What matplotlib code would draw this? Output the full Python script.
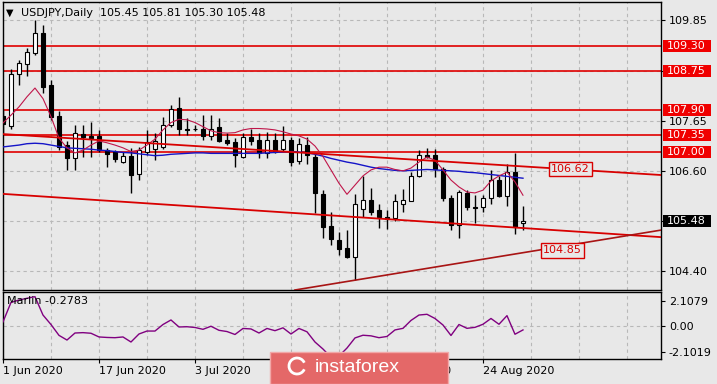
import numpy as np
import pandas as pd
import matplotlib
matplotlib.use("Agg")
import matplotlib.pyplot as plt
import matplotlib.transforms as mtransforms
from matplotlib.patches import Rectangle, Arc

# daily bars, 1 Jun - 31 Aug 2020
dates = pd.bdate_range("2020-06-01", "2020-08-31")

opens = [107.77, 107.55, 108.68, 108.90, 109.14, 109.58, 108.45, 107.77, 107.14, 106.85,
         107.38, 107.34, 107.34, 107.03, 106.98, 106.78, 106.90, 106.51, 107.00, 107.05,
         107.10, 107.58, 107.94, 107.50, 107.49, 107.48, 107.34, 107.53, 107.26, 107.21,
         106.89, 107.31, 107.25, 106.96, 107.25, 107.05, 107.25, 106.79, 107.14, 106.89,
         106.07, 105.38, 105.07, 104.91, 104.70, 105.76, 105.94, 105.73, 105.58, 105.55,
         105.87, 105.93, 106.47, 106.92, 106.92, 106.61, 105.98, 105.41, 106.10, 105.80,
         105.79, 106.00, 106.39, 106.03, 106.56, 105.45]
highs = [107.90, 108.79, 109.00, 109.25, 109.85, 109.75, 108.56, 107.88, 107.23, 107.58,
         107.58, 107.65, 107.47, 107.07, 107.03, 107.00, 107.07, 107.10, 107.47, 107.40,
         107.74, 108.01, 108.19, 107.72, 107.58, 107.79, 107.79, 107.72, 107.40, 107.29,
         107.40, 107.48, 107.40, 107.43, 107.41, 107.55, 107.32, 107.30, 107.32, 106.96,
         106.16, 105.69, 105.25, 105.29, 106.07, 106.47, 106.20, 105.87, 105.73, 106.07,
         106.18, 106.56, 107.03, 107.07, 107.05, 106.67, 106.05, 106.16, 106.16, 106.05,
         106.05, 106.60, 106.47, 106.72, 106.97, 105.81]
lows = [107.40, 107.49, 108.45, 108.64, 109.10, 108.27, 107.68, 107.03, 106.60, 106.60,
        106.89, 106.89, 107.00, 106.67, 106.78, 106.74, 106.10, 106.39, 106.92, 106.82,
        107.05, 107.54, 107.36, 107.36, 107.45, 107.26, 107.25, 107.21, 107.14, 106.66,
        106.85, 107.14, 106.85, 106.85, 106.96, 107.01, 106.68, 106.72, 106.73, 105.67,
        105.13, 104.96, 104.76, 104.68, 104.20, 105.58, 105.62, 105.33, 105.31, 105.49,
        105.69, 105.92, 106.45, 106.85, 106.45, 105.93, 105.29, 105.11, 105.73, 105.44,
        105.69, 105.87, 106.02, 105.81, 105.20, 105.30]
closes = [107.60, 108.69, 108.92, 109.16, 109.58, 108.41, 107.74, 107.10, 106.85, 107.40,
          107.32, 107.30, 107.03, 106.95, 106.84, 106.91, 106.50, 107.03, 107.20, 107.22,
          107.58, 107.92, 107.48, 107.47, 107.48, 107.34, 107.50, 107.23, 107.19, 106.92,
          107.31, 107.23, 106.96, 107.25, 107.00, 107.25, 106.78, 107.16, 106.92, 106.10,
          105.35, 105.09, 104.89, 104.71, 105.85, 105.94, 105.69, 105.58, 105.54, 105.92,
          105.94, 106.47, 106.92, 106.88, 106.61, 105.98, 105.40, 106.11, 105.79, 105.78,
          105.98, 106.39, 106.03, 106.56, 105.36, 105.48]

ma_fast = [107.62, 107.79, 107.97, 108.19, 108.38, 108.15, 107.76, 107.29, 107.08, 106.97,
           107.03, 107.14, 107.23, 107.19, 107.14, 107.08, 107.00, 107.03, 107.14, 107.27,
           107.47, 107.63, 107.70, 107.69, 107.63, 107.54, 107.45, 107.41, 107.40, 107.41,
           107.47, 107.50, 107.50, 107.49, 107.47, 107.43, 107.38, 107.34, 107.27, 107.12,
           106.89, 106.60, 106.31, 106.07, 106.27, 106.47, 106.60, 106.66, 106.66, 106.61,
           106.58, 106.64, 106.77, 106.88, 106.81, 106.60, 106.38, 106.23, 106.12, 106.10,
           106.16, 106.36, 106.47, 106.55, 106.34, 106.05]
ma_slow = [107.10, 107.12, 107.14, 107.17, 107.18, 107.17, 107.14, 107.11, 107.08, 107.07,
           107.06, 107.05, 107.03, 107.02, 107.00, 106.98, 106.97, 106.95, 106.93, 106.91,
           106.92, 106.94, 106.95, 106.96, 106.97, 106.97, 106.96, 106.96, 106.96, 106.96,
           106.96, 106.96, 106.96, 106.97, 106.98, 106.99, 107.00, 106.99, 106.97, 106.94,
           106.90, 106.85, 106.81, 106.77, 106.74, 106.70, 106.66, 106.63, 106.61, 106.59,
           106.58, 106.59, 106.60, 106.61, 106.60, 106.59, 106.58, 106.57, 106.55, 106.54,
           106.52, 106.50, 106.48, 106.46, 106.44, 106.42]

marlin = [0.37, 1.95, 2.15, 2.29, 2.42, 0.93, 0.16, -0.72, -1.10, -0.53,
          -0.50, -0.55, -0.85, -0.89, -0.91, -0.85, -1.26, -0.61, -0.37, -0.37,
          0.16, 0.53, -0.04, -0.02, -0.08, -0.23, 0.02, -0.31, -0.41, -0.65,
          -0.16, -0.20, -0.53, -0.16, -0.34, -0.11, -0.61, -0.16, -0.43, -1.26,
          -1.83, -2.50, -2.40, -1.75, -0.93, -0.71, -0.76, -0.91, -0.81, -0.28,
          -0.15, 0.49, 0.93, 0.99, 0.65, 0.12, -0.73, 0.16, -0.15, -0.07,
          0.18, 0.65, 0.18, 0.88, -0.63, -0.28]

levels = [109.30, 108.75, 107.90, 107.35, 107.00]
last_price = 105.48
trend_upper = ([-0.06, 82.19], [107.38, 106.49])
trend_lower = ([-0.06, 82.19], [106.08, 105.14])
trend_rise = ([36.5, 82.19], [103.99, 105.29])
trend_tags = [(70.9, 106.62), (69.9, 104.85)]

price_grid = [109.85, 108.76, 107.67, 106.58, 105.49, 104.40]
# 108.75 and 105.50 sit under the price tags
price_grid_labels = ["109.85", "", "107.65", "106.60", "", "104.40"]

bg = "#e8e8e8"
grid_c = "#b8b8b8"
red = "#e00000"

W, H = 717, 384
fig = plt.figure(figsize=(W / 100, H / 100), dpi=100, facecolor=bg)
ax = fig.add_axes([2.5 / W, 1 - 290 / H, 658 / W, 288 / H], facecolor=bg)
ax2 = fig.add_axes([2.5 / W, 1 - 359 / H, 658 / W, 67 / H], facecolor=bg)

xlim = (-0.06, 82.19)
x = np.arange(len(closes))

# ---- main price panel
ax.set_xlim(*xlim)
ax.set_ylim(103.99, 110.25)
for gx in range(0, 83, 6):
    ax.axvline(gx, color=grid_c, lw=0.8, ls=(0, (3, 3)), zorder=1)
for gy in price_grid:
    ax.axhline(gy, color=grid_c, lw=0.8, ls=(0, (3, 3)), zorder=1)

for lv in levels:
    ax.axhline(lv, color=red, lw=1.2, zorder=2)

o = np.array(opens)
c = np.array(closes)
up = c >= o
ax.vlines(x, lows, highs, color="black", lw=1, zorder=3)
ax.bar(x, np.maximum(np.abs(c - o), 0.012), bottom=np.minimum(o, c), width=0.62,
       color=np.where(up, "white", "black"), edgecolor="black", linewidth=0.8, zorder=4)

ax.plot(x, ma_slow, color="#1414c8", lw=1.0, zorder=5)
ax.plot(x, ma_fast, color="#c0164a", lw=0.8, zorder=5)

ax.plot(*trend_upper, color="#d80000", lw=1.3, zorder=6)
ax.plot(*trend_lower, color="#d80000", lw=1.3, zorder=6)
ax.plot(*trend_rise, color="#a81414", lw=1.2, zorder=6)

for tx, tv in trend_tags:
    ax.text(tx, tv, f"{tv:.2f}", color="#d80000", fontsize=8, ha="center", va="center", zorder=7,
            bbox=dict(boxstyle="square,pad=0.2", fc=bg, ec="#d80000", lw=1))

ax.yaxis.tick_right()
ax.set_yticks(price_grid)
ax.set_yticklabels(price_grid_labels)
ax.tick_params(axis="y", length=3, width=0.8, labelsize=8, pad=3)
ax.set_xticks([])
for s in ax.spines.values():
    s.set_linewidth(1)

# price tags on the right scale
blend = mtransforms.blended_transform_factory(fig.transFigure, ax.transData)
tag_h = 12 / 46.0
for lv, fc in [(v, "#f00000") for v in levels] + [(last_price, "black")]:
    fig.add_artist(Rectangle((662.5 / W, lv - tag_h / 2), 48 / W, tag_h, transform=blend,
                             fc=fc, ec="none", zorder=5))
    fig.text(686.5 / W, lv, f"{lv:.2f}", transform=blend, color="white", fontsize=8,
             ha="center", va="center", zorder=6)

fig.text(6 / W, 1 - 13 / H, "\u25bc", fontsize=7, va="center", ha="left")
fig.text(21 / W, 1 - 13 / H, "USDJPY,Daily  105.45 105.81 105.30 105.48", fontsize=8,
         va="center", ha="left")

# ---- Marlin panel
ax2.set_xlim(*xlim)
ax2.set_ylim(-2.64, 2.80)
for gx in range(0, 83, 6):
    ax2.axvline(gx, color=grid_c, lw=0.8, ls=(0, (3, 3)), zorder=1)
ax2.axhline(0, color=grid_c, lw=0.8, ls=(0, (3, 3)), zorder=1)
ax2.plot(x, marlin, color="#800080", lw=1, zorder=3)
ax2.text(0.007, 0.87, "Marlin -0.2783", transform=ax2.transAxes, fontsize=8, va="center", zorder=4)
ax2.yaxis.tick_right()
ax2.set_yticks([2.1079, 0, -2.1019])
ax2.set_yticklabels(["2.1079", "0.00", "-2.1019"])
ax2.tick_params(axis="y", length=3, width=0.8, labelsize=8, pad=3)

label_pos = x[::12]
ax2.set_xticks(label_pos)
ax2.set_xticklabels([f"{d.day} {d.strftime('%b %Y')}" for d in dates[::12]], ha="left")
ax2.tick_params(axis="x", length=3, width=0.8, labelsize=8, pad=2)
for s in ax2.spines.values():
    s.set_linewidth(1)

# watermark
fig.add_artist(Rectangle((270 / W, 0), 178 / W, 32 / H, transform=fig.transFigure,
                         fc="#e46868", ec="#f2a8a8", lw=1, zorder=8))
fig.add_artist(Arc((297 / W, 1 - 366 / H), 16 / W, 16 / H, theta1=40, theta2=320,
                   transform=fig.transFigure, color="white", lw=2, zorder=9))
fig.text(315 / W, 1 - 367 / H, "instaforex", fontsize=14, family="Liberation Sans",
         color="white", va="center", ha="left", zorder=9)

fig.savefig("out.png", dpi=100, facecolor=bg)
